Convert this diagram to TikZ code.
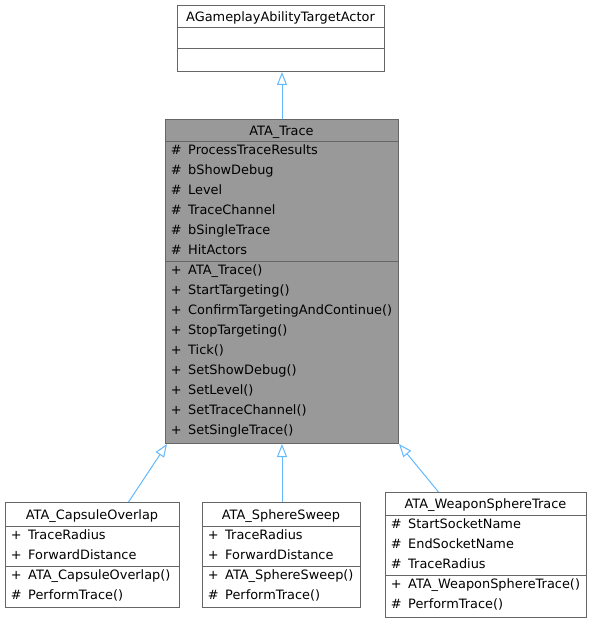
\documentclass[tikz,border=0pt]{standalone}
\usepackage{fontspec}
\setmainfont{DejaVu Sans}
\usepackage{xcolor}
\usetikzlibrary{arrows.meta}

\definecolor{boxgray}{HTML}{666666}
\definecolor{mainfill}{HTML}{999999}
\definecolor{linkblue}{HTML}{63B8FF}

% one member row: visibility sign, then the name
\newcommand{\mrow}[2]{\makebox[12pt][c]{#1}\hspace{6pt}#2}

\begin{document}
\begin{tikzpicture}[x=1pt,y=-1pt,
  font=\fontsize{12.9}{15}\selectfont,
  classbox/.style={draw=boxgray, line width=1pt, rectangle, inner sep=0pt, anchor=north west},
  sepline/.style={draw=boxgray, line width=1pt},
  title/.style={anchor=base, inner sep=0pt},
  member/.style={anchor=base west, inner sep=0pt},
  inherit/.style={draw=linkblue, line width=1pt, -{Triangle[open, length=13pt, width=10pt]}}]

\useasboundingbox (0,0) rectangle (591,623);

% Base class
\node[classbox, fill=white, minimum width=207pt, minimum height=66pt] (actor) at (177,5) {};
\draw[sepline] ([yshift=-23pt]actor.north west) -- ([yshift=-23pt]actor.north east);
\draw[sepline] ([yshift=-44pt]actor.north west) -- ([yshift=-44pt]actor.north east);
\node[title] (actorT) at (280.5,22) {AGameplayAbilityTargetActor};

% Main class: ATA_Trace
\node[classbox, fill=mainfill, minimum width=233pt, minimum height=324pt] (trace) at (165,119) {};
\draw[sepline] ([yshift=-22pt]trace.north west) -- ([yshift=-22pt]trace.north east);
\draw[sepline] ([yshift=-142pt]trace.north west) -- ([yshift=-142pt]trace.north east);
\node[title] (traceT) at (281.5,135.5) {ATA\_Trace};
\node[member] (traceA1) at (170,154.5) {\mrow{\#}{ProcessTraceResults}};
\node[member] (traceA2) at (170,174.5) {\mrow{\#}{bShowDebug}};
\node[member] (traceA3) at (170,194.5) {\mrow{\#}{Level}};
\node[member] (traceA4) at (170,214.5) {\mrow{\#}{TraceChannel}};
\node[member] (traceA5) at (170,234.5) {\mrow{\#}{bSingleTrace}};
\node[member] (traceA6) at (170,254.5) {\mrow{\#}{HitActors}};
\node[member] (traceM1) at (170,274.5) {\mrow{+}{ATA\_Trace()}};
\node[member] (traceM2) at (170,294.5) {\mrow{+}{StartTargeting()}};
\node[member] (traceM3) at (170,314.5) {\mrow{+}{ConfirmTargetingAndContinue()}};
\node[member] (traceM4) at (170,334.5) {\mrow{+}{StopTargeting()}};
\node[member] (traceM5) at (170,354.5) {\mrow{+}{Tick()}};
\node[member] (traceM6) at (170,374.5) {\mrow{+}{SetShowDebug()}};
\node[member] (traceM7) at (170,394.5) {\mrow{+}{SetLevel()}};
\node[member] (traceM8) at (170,414.5) {\mrow{+}{SetTraceChannel()}};
\node[member] (traceM9) at (170,434.5) {\mrow{+}{SetSingleTrace()}};

% Derived class: ATA_CapsuleOverlap
\node[classbox, fill=white, minimum width=174pt, minimum height=105pt] (capsule) at (5,502) {};
\draw[sepline] ([yshift=-24pt]capsule.north west) -- ([yshift=-24pt]capsule.north east);
\draw[sepline] ([yshift=-64pt]capsule.north west) -- ([yshift=-64pt]capsule.north east);
\node[title] (capsuleT) at (92,519.3) {ATA\_CapsuleOverlap};
\node[member] (capsuleA1) at (10,539.3) {\mrow{+}{TraceRadius}};
\node[member] (capsuleA2) at (10,559.3) {\mrow{+}{ForwardDistance}};
\node[member] (capsuleM1) at (10,579.3) {\mrow{+}{ATA\_CapsuleOverlap()}};
\node[member] (capsuleM2) at (10,599.3) {\mrow{\#}{PerformTrace()}};

% Derived class: ATA_SphereSweep
\node[classbox, fill=white, minimum width=158pt, minimum height=105pt] (sphere) at (202,502) {};
\draw[sepline] ([yshift=-24pt]sphere.north west) -- ([yshift=-24pt]sphere.north east);
\draw[sepline] ([yshift=-64pt]sphere.north west) -- ([yshift=-64pt]sphere.north east);
\node[title] (sphereT) at (281,519.3) {ATA\_SphereSweep};
\node[member] (sphereA1) at (207,539.3) {\mrow{+}{TraceRadius}};
\node[member] (sphereA2) at (207,559.3) {\mrow{+}{ForwardDistance}};
\node[member] (sphereM1) at (207,579.3) {\mrow{+}{ATA\_SphereSweep()}};
\node[member] (sphereM2) at (207,599.3) {\mrow{\#}{PerformTrace()}};

% Derived class: ATA_WeaponSphereTrace
\node[classbox, fill=white, minimum width=201pt, minimum height=125pt] (weapon) at (385,492) {};
\draw[sepline] ([yshift=-23pt]weapon.north west) -- ([yshift=-23pt]weapon.north east);
\draw[sepline] ([yshift=-83pt]weapon.north west) -- ([yshift=-83pt]weapon.north east);
\node[title] (weaponT) at (485.5,508.3) {ATA\_WeaponSphereTrace};
\node[member] (weaponA1) at (390,528.3) {\mrow{\#}{StartSocketName}};
\node[member] (weaponA2) at (390,548.3) {\mrow{\#}{EndSocketName}};
\node[member] (weaponA3) at (390,568.3) {\mrow{\#}{TraceRadius}};
\node[member] (weaponM1) at (390,588.3) {\mrow{+}{ATA\_WeaponSphereTrace()}};
\node[member] (weaponM2) at (390,608.3) {\mrow{\#}{PerformTrace()}};

% Inheritance links
\draw[inherit] (trace.north) -- (trace.north |- actor.south);
\draw[inherit] ([xshift=36pt]capsule.north) -- ([xshift=2pt]trace.south west);
\draw[inherit] ([xshift=0.5pt]sphere.north) -- ([xshift=0.5pt]sphere.north |- trace.south);
\draw[inherit] ([xshift=-47.5pt]weapon.north) -- (trace.south east);

\end{tikzpicture}
\end{document}
